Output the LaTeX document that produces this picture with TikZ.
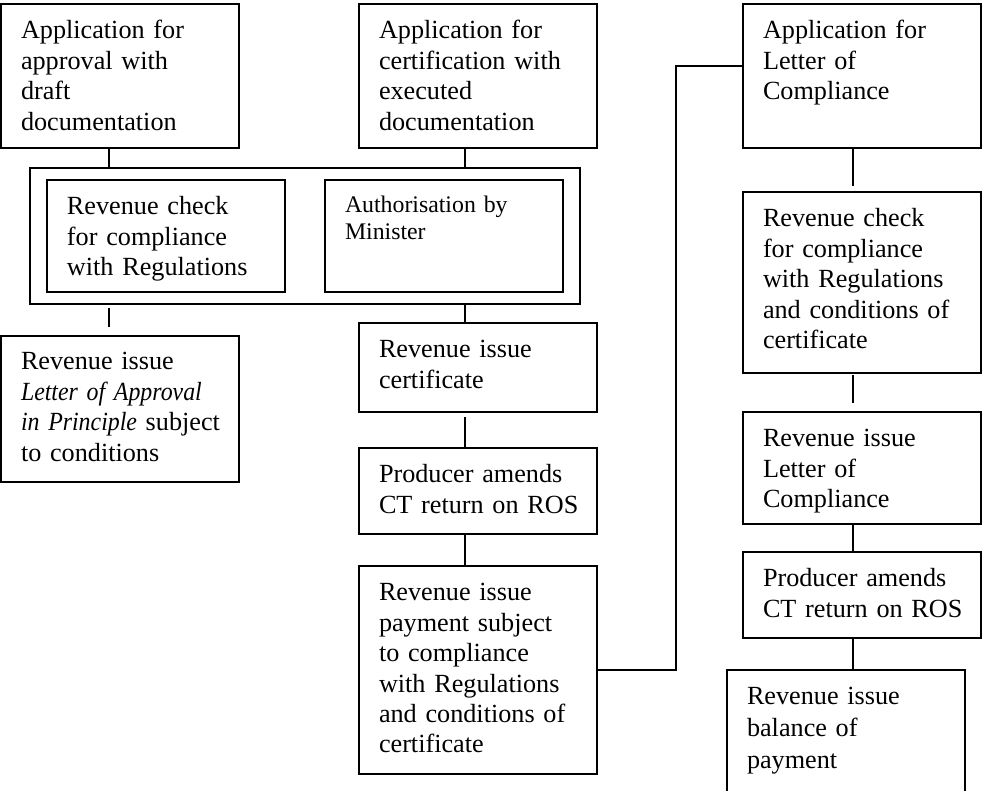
\documentclass[tikz,border=0pt]{standalone}
\usepackage{fontspec}
\setmainfont{Liberation Serif}
\usepackage{tikz}
\usetikzlibrary{positioning, fit}
\newcommand{\stagefont}{\fontsize{13.1pt}{15.2pt}\selectfont}
\newcommand{\notefont}{\fontsize{11.9pt}{13.5pt}\selectfont}
\newcommand{\docname}[1]{{\itshape\addfontfeature{FakeStretch=0.91}#1}}

\begin{document}
\begin{tikzpicture}[x=0.5pt, y=-0.5pt,
  stage/.style={draw, line width=1pt, outer sep=0pt, inner xsep=10pt, inner ysep=0pt,
                text width=99pt, align=left, text height=17.5pt, text depth=#1,
                font=\stagefont, anchor=north west},
  grpbox/.style={draw, line width=1pt, outer sep=0pt, inner xsep=8.5pt, inner ysep=6pt},
  link/.style={line width=1pt},
]
  \path[use as bounding box, clip] (0,0) rectangle (982,791);

  \node[stage=54.5pt] (apf) at (1,4) {Application for\\approval with\\draft\\documentation};
  \node[stage=54.5pt] (apc) at (359,4) {Application for\\certification with\\executed\\documentation};
  \node[stage=54.5pt] (aloc) at (743,4) {Application for\\Letter of\\Compliance};

  \node[stage=38.5pt] (chk) at (47,180) {Revenue check\\for compliance\\with Regulations};
  \node[stage=39.5pt, text height=16.5pt, font=\notefont] (auth) at (325,180) {Authorisation by\\Minister};
  \node[grpbox, fit=(chk)(auth)] (grp) {};

  \node[stage=56pt, text height=17pt] (loa) at (1,336)
    {Revenue issue\\\docname{Letter of Approval}\\\mbox{\docname{in Principle} subject}\\to conditions};

  \node[stage=27pt] (cert) at (359,323) {Revenue issue\\certificate};
  \node[stage=25.5pt, below=18pt of cert] (amd1) {Producer amends\\\mbox{CT return on ROS}};
  \node[stage=86.5pt, below=16pt of amd1] (pay)
    {Revenue issue\\payment subject\\to compliance\\with Regulations\\and conditions of\\certificate};

  \node[stage=73pt, below=22pt of aloc] (chk3)
    {Revenue check\\for compliance\\with Regulations\\and conditions of\\certificate};
  \node[stage=38.5pt, below=19.5pt of chk3] (iss3) {Revenue issue\\Letter of\\Compliance};
  \node[stage=25.5pt, below=14pt of iss3] (amd2) {Producer amends\\\mbox{CT return on ROS}};
  \node[stage=57.5pt, below=16pt of amd2, xshift=-8pt, font=\fontsize{13.1pt}{15.8pt}\selectfont] (bal)
    {Revenue issue\\balance of\\payment};

  \draw[link] ([xshift=-5.5pt]apf.south) -- ([xshift=-5.5pt]apf.south |- grp.north);
  \draw[link] ([xshift=-6.5pt]apc.south) -- ([xshift=-6.5pt]apc.south |- grp.north);
  \draw[link, shorten <=2pt, shorten >=4.5pt] ([xshift=-5.5pt]loa.north |- grp.south) -- ([xshift=-5.5pt]loa.north);
  \draw[link] ([xshift=-6.5pt]cert.north |- grp.south) -- ([xshift=-6.5pt]cert.north);
  \draw[link, shorten <=2.5pt] ([xshift=-6.5pt]cert.south) -- ([xshift=-6.5pt]amd1.north);
  \draw[link] ([xshift=-6.5pt]amd1.south) -- ([xshift=-6.5pt]pay.north);
  \draw[link] (pay.east) -- ++(39.5pt,0) |- ([yshift=5pt]aloc.west);
  \draw[link, shorten >=3pt] ([xshift=-4.5pt]aloc.south) -- ([xshift=-4.5pt]chk3.north);
  \draw[link, shorten <=1pt, shorten >=4.5pt] ([xshift=-4.5pt]chk3.south) -- ([xshift=-4.5pt]iss3.north);
  \draw[link] ([xshift=-4.5pt]iss3.south) -- ([xshift=-4.5pt]amd2.north);
  \draw[link] ([xshift=-4.5pt]amd2.south) -- ([xshift=-4.5pt]amd2.south |- bal.north);
\end{tikzpicture}
\end{document}
